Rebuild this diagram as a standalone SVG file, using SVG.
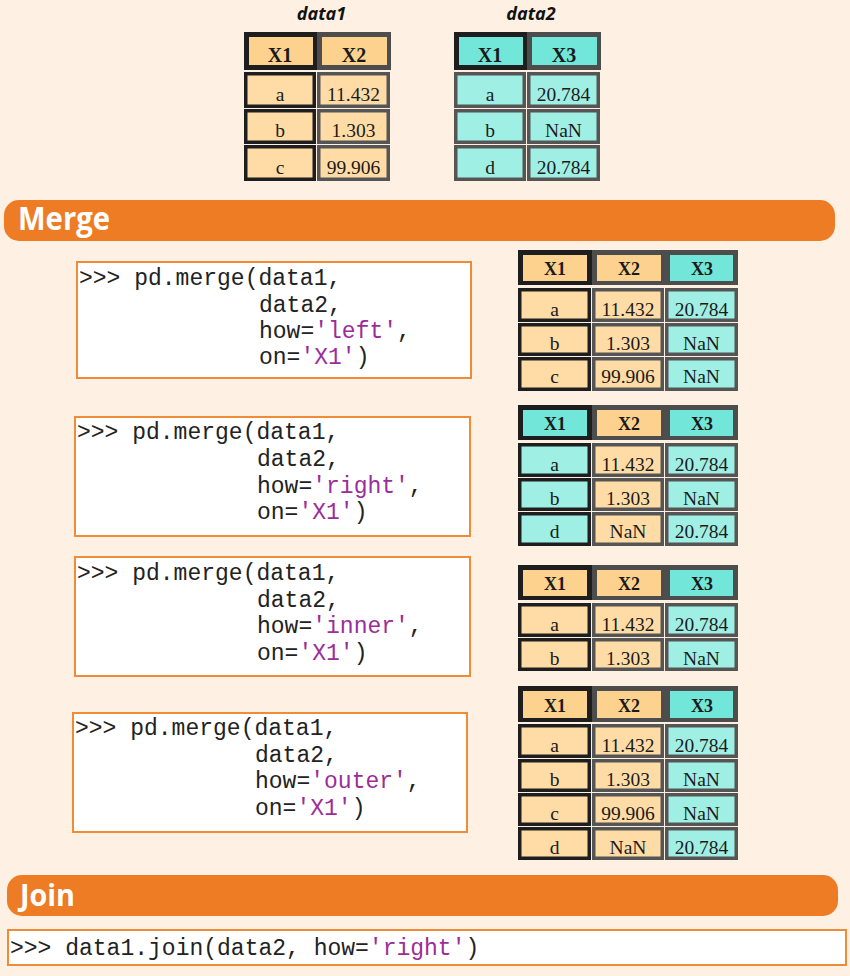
<svg xmlns="http://www.w3.org/2000/svg" width="850" height="976" viewBox="0 0 850 976">
<style>
.bg{fill:#FEF0E3}
.hf{fill:#4d4d4d}
.kf{fill:#1e1e1e}
.oh{fill:#FDD28E}
.th{fill:#72E6D8}
.ob{fill:#FFDCA5;stroke-width:3.5}
.tb{fill:#A0EFE4;stroke-width:3.5}
.k{stroke:#1e1e1e}
.v{stroke:#555555}
.ht{font-family:"Liberation Serif",serif;font-weight:bold;fill:#1a1a1a;text-anchor:middle}
.bt{font-family:"Liberation Serif",serif;font-size:19.5px;fill:#1a1a1a;text-anchor:middle}
.title{font-family:"Open Sans","Liberation Sans",sans-serif;font-weight:bold;font-style:italic;font-size:18px;fill:#111;text-anchor:middle}
.bar{fill:#EE7C25}
.bartxt{font-family:"Open Sans","Liberation Sans",sans-serif;font-weight:bold;fill:#ffffff}
.box{fill:#ffffff;stroke:#F08C38;stroke-width:2}
.code{font-family:"Liberation Mono",monospace;font-size:23px;fill:#222222}
.s{fill:#9B2D9B}
</style>
<rect class="bg" x="0" y="0" width="850" height="976"/>

<!-- data1 -->
<g id="data1">
<text class="title" x="321.5" y="20">data1</text>
<rect class="hf" x="244" y="32" width="147" height="38"/>
<rect class="kf" x="244" y="32" width="73" height="38"/>
<rect class="oh" x="249" y="37" width="64" height="28"/>
<rect class="oh" x="322" y="37" width="65" height="28"/>
<text class="ht" x="280" y="62" font-size="20">X1</text>
<text class="ht" x="354" y="62" font-size="20">X2</text>
<rect class="ob k" x="245.75" y="73.75" width="68.5" height="32.5"/>
<rect class="ob v" x="318.75" y="73.75" width="69.5" height="32.5"/>
<rect class="ob k" x="245.75" y="110.75" width="68.5" height="31.5"/>
<rect class="ob v" x="318.75" y="110.75" width="69.5" height="31.5"/>
<rect class="ob k" x="245.75" y="146.75" width="68.5" height="32.5"/>
<rect class="ob v" x="318.75" y="146.75" width="69.5" height="32.5"/>
<text class="bt" x="280" y="101">a</text>
<text class="bt" x="353.5" y="101">11.432</text>
<text class="bt" x="280" y="137">b</text>
<text class="bt" x="353.5" y="137">1.303</text>
<text class="bt" x="280" y="174">c</text>
<text class="bt" x="353.5" y="174">99.906</text>
</g>

<!-- data2 -->
<g id="data2">
<text class="title" x="531" y="20">data2</text>
<rect class="hf" x="454" y="32" width="147" height="38"/>
<rect class="kf" x="454" y="32" width="73" height="38"/>
<rect class="th" x="459" y="37" width="64" height="28"/>
<rect class="th" x="532" y="37" width="65" height="28"/>
<text class="ht" x="490" y="62" font-size="20">X1</text>
<text class="ht" x="564" y="62" font-size="20">X3</text>
<rect class="tb v" x="455.75" y="73.75" width="68.5" height="32.5"/>
<rect class="tb v" x="528.75" y="73.75" width="69.5" height="32.5"/>
<rect class="tb v" x="455.75" y="110.75" width="68.5" height="31.5"/>
<rect class="tb v" x="528.75" y="110.75" width="69.5" height="31.5"/>
<rect class="tb v" x="455.75" y="146.75" width="68.5" height="32.5"/>
<rect class="tb v" x="528.75" y="146.75" width="69.5" height="32.5"/>
<text class="bt" x="490" y="101">a</text>
<text class="bt" x="563.5" y="101">20.784</text>
<text class="bt" x="490" y="137">b</text>
<text class="bt" x="563.5" y="137">NaN</text>
<text class="bt" x="490" y="174">d</text>
<text class="bt" x="563.5" y="174">20.784</text>
</g>

<!-- Merge bar -->
<g id="merge-bar">
<rect class="bar" x="4" y="200" width="831" height="41" rx="15"/>
<text class="bartxt" x="18" y="230" font-size="32" textLength="92" lengthAdjust="spacingAndGlyphs">Merge</text>
</g>

<!-- left merge -->
<g id="code-left">
<rect class="box" x="77" y="262" width="394" height="116"/>
<text class="code" x="79" y="285">&gt;&gt;&gt; pd.merge(data1,</text>
<text class="code" x="259" y="311.7">data2,</text>
<text class="code" x="259" y="338">how=<tspan class="s">'left'</tspan>,</text>
<text class="code" x="259" y="364.3">on=<tspan class="s">'X1'</tspan>)</text>
</g>
<g id="table-left">
<rect class="hf" x="518" y="250" width="220" height="35"/>
<rect class="kf" x="518" y="250" width="74" height="35"/>
<rect class="oh" x="523" y="255" width="64" height="26"/>
<rect class="oh" x="597" y="255" width="64" height="26"/>
<rect class="th" x="670" y="255" width="63" height="26"/>
<text class="ht" x="555" y="275" font-size="18">X1</text>
<text class="ht" x="629" y="275" font-size="18">X2</text>
<text class="ht" x="702" y="275" font-size="18">X3</text>
<rect class="ob k" x="519.75" y="289.75" width="69.5" height="30.5"/>
<rect class="ob v" x="593.75" y="289.75" width="68.5" height="30.5"/>
<rect class="tb v" x="666.75" y="289.75" width="69.5" height="30.5"/>
<rect class="ob k" x="519.75" y="324.75" width="69.5" height="29.5"/>
<rect class="ob v" x="593.75" y="324.75" width="68.5" height="29.5"/>
<rect class="tb v" x="666.75" y="324.75" width="69.5" height="29.5"/>
<rect class="ob k" x="519.75" y="358.75" width="69.5" height="30.5"/>
<rect class="ob v" x="593.75" y="358.75" width="68.5" height="30.5"/>
<rect class="tb v" x="666.75" y="358.75" width="69.5" height="30.5"/>
<text class="bt" x="554.5" y="315.5">a</text>
<text class="bt" x="628" y="315.5">11.432</text>
<text class="bt" x="701.5" y="315.5">20.784</text>
<text class="bt" x="554.5" y="349.5">b</text>
<text class="bt" x="628" y="349.5">1.303</text>
<text class="bt" x="701.5" y="349.5">NaN</text>
<text class="bt" x="554.5" y="383">c</text>
<text class="bt" x="628" y="383">99.906</text>
<text class="bt" x="701.5" y="383">NaN</text>
</g>

<!-- right merge -->
<g id="code-right">
<rect class="box" x="75" y="417" width="395" height="119"/>
<text class="code" x="77" y="439.3">&gt;&gt;&gt; pd.merge(data1,</text>
<text class="code" x="257" y="466">data2,</text>
<text class="code" x="257" y="492.7">how=<tspan class="s">'right'</tspan>,</text>
<text class="code" x="257" y="519.3">on=<tspan class="s">'X1'</tspan>)</text>
</g>
<g id="table-right">
<rect class="hf" x="518" y="405" width="220" height="35"/>
<rect class="kf" x="518" y="405" width="74" height="35"/>
<rect class="th" x="523" y="410" width="64" height="26"/>
<rect class="oh" x="597" y="410" width="64" height="26"/>
<rect class="th" x="670" y="410" width="63" height="26"/>
<text class="ht" x="555" y="430" font-size="18">X1</text>
<text class="ht" x="629" y="430" font-size="18">X2</text>
<text class="ht" x="702" y="430" font-size="18">X3</text>
<rect class="tb k" x="519.75" y="444.75" width="69.5" height="30.5"/>
<rect class="ob v" x="593.75" y="444.75" width="68.5" height="30.5"/>
<rect class="tb v" x="666.75" y="444.75" width="69.5" height="30.5"/>
<rect class="tb k" x="519.75" y="479.75" width="69.5" height="29.5"/>
<rect class="ob v" x="593.75" y="479.75" width="68.5" height="29.5"/>
<rect class="tb v" x="666.75" y="479.75" width="69.5" height="29.5"/>
<rect class="tb k" x="519.75" y="513.75" width="69.5" height="30.5"/>
<rect class="ob v" x="593.75" y="513.75" width="68.5" height="30.5"/>
<rect class="tb v" x="666.75" y="513.75" width="69.5" height="30.5"/>
<text class="bt" x="554.5" y="470.5">a</text>
<text class="bt" x="628" y="470.5">11.432</text>
<text class="bt" x="701.5" y="470.5">20.784</text>
<text class="bt" x="554.5" y="504.5">b</text>
<text class="bt" x="628" y="504.5">1.303</text>
<text class="bt" x="701.5" y="504.5">NaN</text>
<text class="bt" x="554.5" y="538">d</text>
<text class="bt" x="628" y="538">NaN</text>
<text class="bt" x="701.5" y="538">20.784</text>
</g>

<!-- inner merge -->
<g id="code-inner">
<rect class="box" x="75" y="557" width="395" height="119"/>
<text class="code" x="77" y="580">&gt;&gt;&gt; pd.merge(data1,</text>
<text class="code" x="257" y="606.7">data2,</text>
<text class="code" x="257" y="633.3">how=<tspan class="s">'inner'</tspan>,</text>
<text class="code" x="257" y="660">on=<tspan class="s">'X1'</tspan>)</text>
</g>
<g id="table-inner">
<rect class="hf" x="518" y="565" width="220" height="35"/>
<rect class="kf" x="518" y="565" width="74" height="35"/>
<rect class="oh" x="523" y="570" width="64" height="26"/>
<rect class="oh" x="597" y="570" width="64" height="26"/>
<rect class="th" x="670" y="570" width="63" height="26"/>
<text class="ht" x="555" y="590" font-size="18">X1</text>
<text class="ht" x="629" y="590" font-size="18">X2</text>
<text class="ht" x="702" y="590" font-size="18">X3</text>
<rect class="ob k" x="519.75" y="604.75" width="69.5" height="30.5"/>
<rect class="ob v" x="593.75" y="604.75" width="68.5" height="30.5"/>
<rect class="tb v" x="666.75" y="604.75" width="69.5" height="30.5"/>
<rect class="ob k" x="519.75" y="639.75" width="69.5" height="29.5"/>
<rect class="ob v" x="593.75" y="639.75" width="68.5" height="29.5"/>
<rect class="tb v" x="666.75" y="639.75" width="69.5" height="29.5"/>
<text class="bt" x="554.5" y="630.5">a</text>
<text class="bt" x="628" y="630.5">11.432</text>
<text class="bt" x="701.5" y="630.5">20.784</text>
<text class="bt" x="554.5" y="664.5">b</text>
<text class="bt" x="628" y="664.5">1.303</text>
<text class="bt" x="701.5" y="664.5">NaN</text>
</g>

<!-- outer merge -->
<g id="code-outer">
<rect class="box" x="73" y="713" width="394" height="119"/>
<text class="code" x="75" y="735">&gt;&gt;&gt; pd.merge(data1,</text>
<text class="code" x="255" y="761.7">data2,</text>
<text class="code" x="255" y="788.3">how=<tspan class="s">'outer'</tspan>,</text>
<text class="code" x="255" y="815">on=<tspan class="s">'X1'</tspan>)</text>
</g>
<g id="table-outer">
<rect class="hf" x="518" y="686" width="220" height="36"/>
<rect class="kf" x="518" y="686" width="74" height="36"/>
<rect class="oh" x="523" y="691" width="64" height="27"/>
<rect class="oh" x="597" y="691" width="64" height="27"/>
<rect class="th" x="670" y="691" width="63" height="27"/>
<text class="ht" x="555" y="711.5" font-size="18">X1</text>
<text class="ht" x="629" y="711.5" font-size="18">X2</text>
<text class="ht" x="702" y="711.5" font-size="18">X3</text>
<rect class="ob k" x="519.75" y="725.75" width="69.5" height="30.5"/>
<rect class="ob v" x="593.75" y="725.75" width="68.5" height="30.5"/>
<rect class="tb v" x="666.75" y="725.75" width="69.5" height="30.5"/>
<rect class="ob k" x="519.75" y="760.75" width="69.5" height="29.5"/>
<rect class="ob v" x="593.75" y="760.75" width="68.5" height="29.5"/>
<rect class="tb v" x="666.75" y="760.75" width="69.5" height="29.5"/>
<rect class="ob k" x="519.75" y="794.75" width="69.5" height="29.5"/>
<rect class="ob v" x="593.75" y="794.75" width="68.5" height="29.5"/>
<rect class="tb v" x="666.75" y="794.75" width="69.5" height="29.5"/>
<rect class="ob k" x="519.75" y="828.75" width="69.5" height="29.5"/>
<rect class="ob v" x="593.75" y="828.75" width="68.5" height="29.5"/>
<rect class="tb v" x="666.75" y="828.75" width="69.5" height="29.5"/>
<text class="bt" x="554.5" y="751.5">a</text>
<text class="bt" x="628" y="751.5">11.432</text>
<text class="bt" x="701.5" y="751.5">20.784</text>
<text class="bt" x="554.5" y="785.5">b</text>
<text class="bt" x="628" y="785.5">1.303</text>
<text class="bt" x="701.5" y="785.5">NaN</text>
<text class="bt" x="554.5" y="819.5">c</text>
<text class="bt" x="628" y="819.5">99.906</text>
<text class="bt" x="701.5" y="819.5">NaN</text>
<text class="bt" x="554.5" y="853.5">d</text>
<text class="bt" x="628" y="853.5">NaN</text>
<text class="bt" x="701.5" y="853.5">20.784</text>
</g>

<!-- Join bar -->
<g id="join-bar">
<rect class="bar" x="7" y="875" width="831" height="41" rx="15"/>
<text class="bartxt" x="20" y="906" font-size="31" textLength="55" lengthAdjust="spacingAndGlyphs">Join</text>
</g>
<g id="code-join">
<rect class="box" x="8" y="930" width="838" height="35"/>
<text class="code" x="10" y="954.5">&gt;&gt;&gt; data1.join(data2, how=<tspan class="s">'right'</tspan>)</text>
</g>

<g id="connectors"/>
</svg>
